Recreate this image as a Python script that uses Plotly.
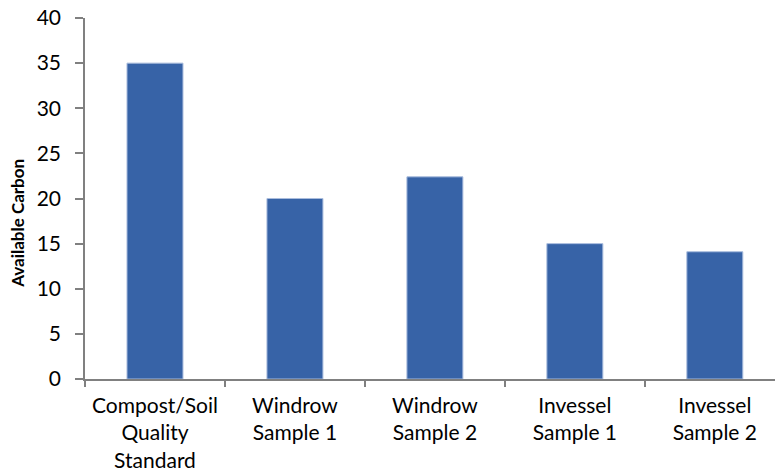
import plotly.graph_objects as go

categories = ["Compost/Soil<br>Quality<br>Standard", "Windrow<br>Sample 1", "Windrow<br>Sample 2",
              "Invessel<br>Sample 1", "Invessel<br>Sample 2"]
values = [35, 20, 22.4, 15, 14.1]
y_ticks = [0, 5, 10, 15, 20, 25, 30, 35, 40]
y_title = "Available Carbon"

FONT = "Lato"
fig = go.Figure(go.Bar(
    x=categories, y=values,
    marker=dict(color="#3763A7", line=dict(color="#A9BCDD", width=1)),
))
fig.update_layout(
    width=775, height=476,
    margin=dict(l=85, r=0, t=18, b=97),
    plot_bgcolor="white", paper_bgcolor="white",
    bargap=0.6, showlegend=False,
    font=dict(family=FONT, size=21, color="black"),
)
fig.update_xaxes(
    range=[-0.5, 4.43], showline=True, linecolor="#808080", linewidth=1.5,
    ticks="outside", tickson="boundaries", ticklen=6, tickcolor="#808080", tickwidth=1.5,
    showgrid=False, tickfont=dict(family=FONT, size=21, color="black"), tickangle=0,
    ticklabelstandoff=7, automargin=False,
)
fig.update_yaxes(
    range=[0, 40], tickvals=y_ticks, showline=True, linecolor="#808080", linewidth=1.5,
    ticks="outside", ticklen=8, tickcolor="#808080", tickwidth=1.5, showgrid=False,
    zeroline=False, tickfont=dict(family=FONT, size=21, color="black"),
    ticklabelstandoff=10, automargin=False,
)
fig.add_annotation(
    text="<b>" + y_title + "</b>", textangle=-90, showarrow=False,
    xref="paper", yref="paper", x=-0.097, y=0.43, xanchor="center", yanchor="middle",
    font=dict(family=FONT, size=17, color="black"),
)
fig.write_html("out.html", config={"displayModeBar": False},
               post_script="document.body.style.margin='0';")
